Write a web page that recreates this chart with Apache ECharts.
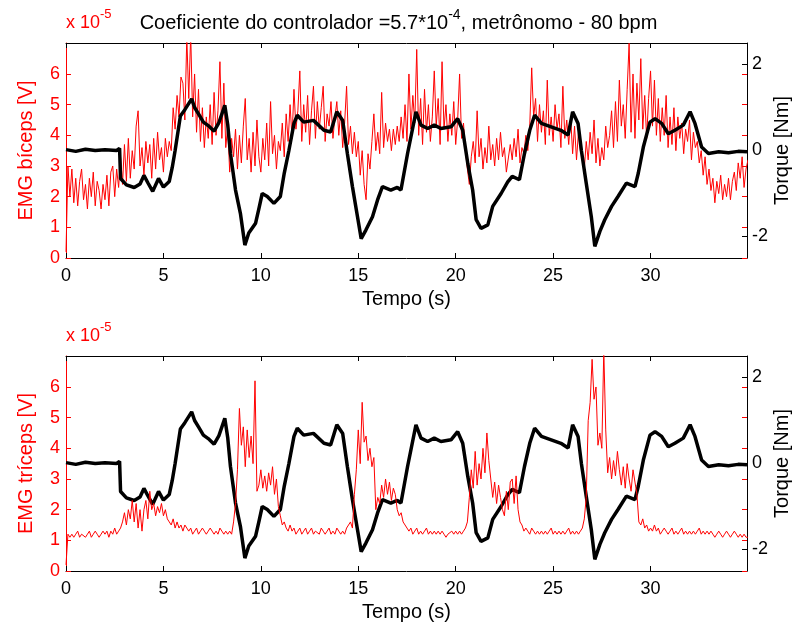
<!DOCTYPE html>
<html><head><meta charset="utf-8">
<script src="https://cdn.jsdelivr.net/npm/echarts@6/dist/echarts.min.js"></script>
<style>html,body{margin:0;padding:0;background:#fff}#c{width:797px;height:629px}</style>
</head><body><div id="c"></div>
<script>
// EMG sampled every 0.1 s, in units of 1e-5 V
const sampleStep = 0.1;
const bicepsEMG = [
0.2,3.0,2.0,2.9,1.8,2.6,1.7,2.5,2.9,1.9,
2.4,1.6,2.6,2.0,2.8,1.7,2.5,2.2,1.6,2.4,
1.9,2.7,1.7,2.8,3.0,2.0,2.9,2.3,3.3,2.4,
3.7,2.5,3.9,2.6,3.5,2.9,4.3,4.8,3.0,3.6,
2.7,3.8,3.1,3.7,2.6,3.9,2.9,4.1,3.2,3.6,
2.8,3.9,3.3,3.8,3.5,4.9,4.2,5.3,4.6,5.9,
5.7,4.5,7.2,5.2,7.3,4.6,6.0,4.1,5.5,3.8,
4.9,3.6,4.6,3.9,5.0,3.7,5.4,4.0,4.8,6.4,
3.9,5.7,3.6,4.3,2.8,3.9,3.3,4.2,2.9,4.0,
3.1,4.3,5.2,3.2,3.9,2.8,4.1,3.0,4.5,3.3,
2.8,3.9,3.2,4.4,3.0,5.1,3.4,4.0,2.9,3.8,
3.5,4.4,3.3,4.7,3.8,5.0,3.9,5.5,4.2,4.8,
6.1,3.8,5.0,4.1,5.3,3.7,4.8,5.6,3.9,5.1,
4.2,4.9,5.6,3.8,4.7,4.3,5.1,3.9,4.6,5.1,
4.0,4.8,3.6,4.4,5.6,3.7,4.3,3.4,4.1,3.3,
3.8,2.7,3.5,2.4,1.9,3.4,2.9,3.8,4.7,3.5,
4.1,3.4,5.4,3.6,4.4,3.8,4.2,3.5,4.2,3.7,
4.3,3.8,4.6,3.9,5.0,3.8,6.0,4.2,5.3,4.4,
6.8,4.0,5.2,3.7,5.5,4.1,5.0,3.8,4.6,6.1,
4.3,5.2,3.7,6.4,4.2,5.0,3.8,4.7,4.0,5.1,
3.7,4.5,6.0,3.9,4.4,3.5,2.9,2.4,3.3,3.8,
3.1,4.8,3.3,3.9,2.9,3.6,3.1,4.3,3.2,3.7,
3.0,3.9,3.2,4.1,3.3,3.6,2.8,2.8,3.7,3.2,
3.9,3.3,4.2,3.1,3.6,3.4,4.0,3.5,4.3,6.2,
4.6,5.2,3.8,5.0,4.1,4.8,3.7,5.8,4.0,4.6,
3.8,5.0,4.2,4.7,3.6,5.6,3.9,4.5,3.7,4.6,
3.4,4.3,3.2,4.1,3.5,3.3,2.9,3.8,3.2,4.1,
3.4,4.5,3.1,3.9,3.0,3.6,3.2,4.3,3.6,4.0,
4.8,3.6,5.1,3.8,5.8,4.3,5.0,3.9,5.5,7.0,
4.1,6.0,3.9,5.7,4.5,6.5,4.2,5.3,3.9,5.2,
6.1,4.3,5.8,4.0,5.2,3.8,4.9,4.0,5.3,3.6,
4.6,3.7,4.9,3.5,4.6,3.9,4.4,3.4,4.2,3.8,
4.5,3.2,4.1,3.6,3.8,3.1,3.5,2.7,3.3,2.4,
2.9,2.2,2.6,1.8,2.5,2.1,2.7,1.9,2.4,2.0,
2.6,1.9,2.5,2.8,2.2,3.1,2.6,3.3,2.3,2.9,
3.2];
const tricepsEMG = [
0.2,1.2,1.1,1.2,1.1,1.2,1.3,1.1,1.2,1.2,
1.1,1.2,1.3,1.1,1.2,1.3,1.2,1.1,1.2,1.3,
1.2,1.3,1.1,1.3,1.2,1.4,1.2,1.3,1.4,1.6,
1.9,1.5,2.0,1.7,2.3,1.6,2.2,1.4,2.0,1.3,
2.0,2.3,1.7,2.6,2.0,2.2,1.8,2.1,1.9,2.2,
1.8,2.0,1.7,1.6,1.5,1.7,1.4,1.6,1.4,1.5,
1.3,1.5,1.4,1.3,1.4,1.2,1.3,1.4,1.2,1.3,
1.4,1.3,1.2,1.3,1.4,1.3,1.2,1.3,1.2,1.4,
1.3,1.2,1.3,1.2,1.3,1.2,1.6,2.2,3.3,5.3,
4.1,4.7,3.4,4.6,3.7,4.4,3.5,6.2,2.6,2.8,
3.3,2.7,3.1,2.6,3.2,2.8,3.4,2.5,3.0,2.1,
1.8,1.5,1.6,1.4,1.3,1.5,1.3,1.4,1.2,1.3,
1.4,1.2,1.3,1.4,1.2,1.3,1.4,1.2,1.3,1.3,
1.2,1.4,1.3,1.2,1.3,1.4,1.2,1.3,1.2,1.4,
1.3,1.2,1.3,1.2,1.4,1.5,1.6,1.4,2.5,3.3,
4.6,3.5,5.5,4.2,4.4,3.6,4.0,3.4,3.7,2.0,
2.4,2.2,2.8,2.4,3.0,2.5,2.9,2.3,2.7,2.5,
2.0,1.8,1.9,1.6,1.5,1.4,1.3,1.4,1.2,1.3,
1.4,1.2,1.3,1.2,1.3,1.4,1.2,1.3,1.2,1.3,
1.2,1.3,1.2,1.3,1.2,1.1,1.2,1.2,1.3,1.2,
1.3,1.2,1.3,1.2,1.3,1.4,1.6,2.4,3.3,2.7,
3.9,2.8,3.5,3.0,4.0,3.2,4.5,3.6,3.0,2.4,
2.9,2.2,2.8,2.4,2.0,1.8,2.6,2.0,2.9,3.0,
2.2,3.1,2.0,1.6,1.5,1.3,1.4,1.3,1.2,1.4,
1.3,1.2,1.3,1.2,1.3,1.2,1.3,1.2,1.3,1.4,
1.2,1.3,1.2,1.3,1.2,1.3,1.2,1.3,1.4,1.2,
1.3,1.2,1.3,1.2,1.3,1.4,1.7,2.4,4.9,5.5,
6.9,5.6,6.0,4.1,4.5,4.0,7.2,4.6,3.2,3.7,
3.0,3.6,3.1,3.9,3.3,2.8,3.4,2.7,3.5,3.0,
2.6,3.3,2.9,2.5,1.6,1.5,1.7,1.4,1.5,1.3,
1.4,1.3,1.5,1.3,1.4,1.2,1.3,1.4,1.3,1.2,
1.3,1.4,1.2,1.3,1.2,1.3,1.4,1.2,1.3,1.2,
1.3,1.2,1.3,1.2,1.3,1.4,1.2,1.3,1.2,1.3,
1.2,1.3,1.2,1.1,1.2,1.3,1.2,1.1,1.2,1.3,
1.2,1.1,1.2,1.3,1.2,1.1,1.2,1.1,1.2,1.1,
1.1];
// Torque [Nm], read at turning points
const torqueTime = [0,0.5,1,1.5,2,2.6,2.75,2.8,3.1,3.5,3.8,4.0,4.2,4.45,4.75,5.0,5.3,5.45,5.6,5.87,6.1,6.45,6.6,6.8,7.05,7.3,7.6,7.85,8.15,8.3,8.44,8.7,8.95,9.18,9.38,9.73,9.9,10.07,10.33,10.67,11.0,11.2,11.44,11.7,11.87,12.2,12.7,13.24,13.58,13.9,14.2,14.44,14.7,14.96,15.15,15.39,15.73,15.99,16.24,16.67,17.0,17.19,17.53,17.96,18.22,18.56,18.9,19.24,19.76,20.1,20.36,20.62,20.87,21.05,21.3,21.65,21.9,22.33,22.67,22.9,23.27,23.53,23.8,24.05,24.4,24.9,25.4,25.77,26.0,26.28,26.45,26.7,26.96,27.14,27.4,27.65,28.0,28.33,28.76,29.2,29.37,29.63,29.97,30.23,30.57,30.91,31.25,31.68,32.03,32.28,32.62,32.97,33.5,34,34.5,34.95];
const torqueValues = [0.02,-0.02,0.03,0,0.02,0.0,0.05,-0.65,-0.8,-0.86,-0.78,-0.58,-0.75,-0.95,-0.65,-0.85,-0.72,-0.4,0,0.8,0.95,1.2,1.0,0.85,0.66,0.58,0.45,0.65,1.05,0.6,-0.07,-0.92,-1.46,-2.2,-1.92,-1.69,-1.35,-1.0,-1.07,-1.23,-1.07,-0.53,0,0.63,0.82,0.66,0.70,0.47,0.43,0.9,0.7,-0.07,-0.84,-1.54,-2.05,-1.85,-1.54,-1.15,-0.84,-0.92,-0.86,-0.92,-0.07,0.9,0.59,0.51,0.59,0.51,0.55,0.74,0.47,-0.3,-0.92,-1.61,-1.81,-1.73,-1.3,-1.0,-0.73,-0.6,-0.68,-0.07,0.47,0.82,0.63,0.55,0.47,0.36,0.9,0.63,0,-0.76,-1.54,-2.23,-1.88,-1.61,-1.3,-1.07,-0.76,-0.84,-0.53,0.08,0.66,0.74,0.63,0.39,0.47,0.59,0.9,0.63,0.08,-0.07,-0.03,-0.05,-0.02,-0.03];
const timeTicks = [0,5,10,15,20,25,30];
const emgTicks = [0,1,2,3,4,5,6];
const torqueTicks = [-2,0,2];

const FONT = 'Liberation Sans, Arial, Helvetica, sans-serif';
const RED = '#ff0000';
const chart = echarts.init(document.getElementById('c'), null, {renderer: 'canvas'});

const emgPairs = arr => arr.map((v, i) => [+(i * sampleStep).toFixed(1), v]);
const torquePairs = torqueTime.map((t, i) => [t, torqueValues[i]]);

function xAxes(g) {
  return [{
    type: 'value', gridIndex: g, position: 'bottom', min: 0, max: 34.95,
    name: 'Tempo (s)', nameLocation: 'middle', nameGap: 31, nameMoveOverlap: false,
    nameTextStyle: {fontFamily: FONT, fontSize: 20, color: '#000'},
    axisLine: {onZero: false, lineStyle: {color: '#000', width: 1}},
    axisTick: {inside: true, length: 5, customValues: timeTicks, lineStyle: {color: '#000'}},
    axisLabel: {customValues: timeTicks, margin: 9, fontFamily: FONT, fontSize: 18, color: '#000'},
    splitLine: {show: false}
  }, {
    type: 'value', gridIndex: g, position: 'top', min: 0, max: 34.95,
    axisLine: {onZero: false, lineStyle: {color: '#000', width: 1}},
    axisTick: {inside: true, length: 5, customValues: timeTicks, lineStyle: {color: '#000'}},
    axisLabel: {show: false}, splitLine: {show: false}
  }];
}
function yAxes(g, name) {
  return [{
    type: 'value', gridIndex: g, position: 'left', min: 0, max: 7.01,
    name: name, nameLocation: 'middle', nameGap: 30, nameRotate: 90, nameMoveOverlap: false,
    nameTextStyle: {fontFamily: FONT, fontSize: 20, color: RED},
    axisLine: {show: true, onZero: false, lineStyle: {color: RED, width: 1}},
    axisTick: {inside: true, length: 5, customValues: emgTicks, lineStyle: {color: RED}},
    axisLabel: {customValues: emgTicks, margin: 6, fontFamily: FONT, fontSize: 18, color: RED},
    splitLine: {show: false}
  }, {
    type: 'value', gridIndex: g, position: 'right', min: -2.5, max: 2.5,
    name: 'Torque [Nm]', nameLocation: 'middle', nameGap: 25, nameRotate: 90, nameMoveOverlap: false,
    nameTextStyle: {fontFamily: FONT, fontSize: 20, color: '#000'},
    axisLine: {show: true, onZero: false, lineStyle: {color: '#000', width: 1}},
    axisTick: {inside: true, length: 5, customValues: torqueTicks, lineStyle: {color: '#000'}},
    axisLabel: {customValues: torqueTicks, margin: 5, fontFamily: FONT, fontSize: 18, color: '#000'},
    splitLine: {show: false}
  }, {
    type: 'value', gridIndex: g, position: 'right', min: 0, max: 7.01,
    axisLine: {show: false, onZero: false},
    axisTick: {show: true, inside: true, length: 5, customValues: emgTicks, lineStyle: {color: RED}},
    axisLabel: {show: false}, splitLine: {show: false}
  }];
}

const option = {
  backgroundColor: '#fff',
  animation: false,
  title: {
    text: '{a|Coeficiente do controlador =5.7*10}{b|-4}{a|, metrônomo - 80 bpm}',
    left: 'center', top: 3,
    textStyle: {
      fontWeight: 'normal',
      rich: {
        a: {fontFamily: FONT, fontSize: 20, fontWeight: 'normal', color: '#000', lineHeight: 30},
        b: {fontFamily: FONT, fontSize: 14, fontWeight: 'normal', color: '#000', lineHeight: 15, verticalAlign: 'top'}
      }
    }
  },
  graphic: [
    {type: 'text', left: 66, top: 8, style: {text: '{a|x 10}{b|-5}', rich: {
      a: {fontFamily: FONT, fontSize: 18, fill: RED, lineHeight: 30},
      b: {fontFamily: FONT, fontSize: 13, fill: RED, lineHeight: 14, verticalAlign: 'top'}}}},
    {type: 'text', left: 66, top: 321, style: {text: '{a|x 10}{b|-5}', rich: {
      a: {fontFamily: FONT, fontSize: 18, fill: RED, lineHeight: 30},
      b: {fontFamily: FONT, fontSize: 13, fill: RED, lineHeight: 14, verticalAlign: 'top'}}}}
  ],
  grid: [
    {left: 66, top: 43, width: 681, height: 215, outerBoundsMode: 'none', containLabel: false},
    {left: 66, top: 356, width: 681, height: 215, outerBoundsMode: 'none', containLabel: false}
  ],
  xAxis: [...xAxes(0), ...xAxes(1)],
  yAxis: [...yAxes(0, 'EMG bíceps [V]'), ...yAxes(1, 'EMG tríceps [V]')],
  series: [
    {type: 'line', xAxisIndex: 0, yAxisIndex: 0, data: emgPairs(bicepsEMG), symbol: 'none',
     lineStyle: {color: RED, width: 1}, z: 2, clip: true},
    {type: 'line', xAxisIndex: 0, yAxisIndex: 1, data: torquePairs, symbol: 'none',
     lineStyle: {color: '#000', width: 3.5}, z: 3, clip: true},
    {type: 'line', xAxisIndex: 2, yAxisIndex: 3, data: emgPairs(tricepsEMG), symbol: 'none',
     lineStyle: {color: RED, width: 1}, z: 4, clip: true},
    {type: 'line', xAxisIndex: 2, yAxisIndex: 4, data: torquePairs, symbol: 'none',
     lineStyle: {color: '#000', width: 3.5}, z: 3, clip: true}
  ]
};
chart.setOption(option);
</script>
</body></html>
